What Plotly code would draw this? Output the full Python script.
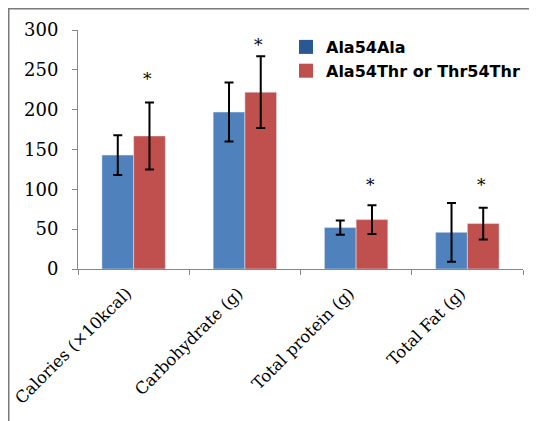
import plotly.graph_objects as go

categories = ["Calories (×10kcal)", "Carbohydrate (g)", "Total protein (g)", "Total Fat (g)"]
series_names = ["Ala54Ala", "Ala54Thr or Thr54Thr"]
ala_values = [143, 197, 52, 46]
ala_errors = [25, 37, 9, 37]
thr_values = [167, 222, 62, 57]
thr_errors = [42, 45, 18, 20]
sig_marks = ["*", "*", "*", "*"]
sig_y = [242, 285, 109, 109]
y_ticks = [0, 50, 100, 150, 200, 250, 300]

BLUE = "#4F81BD"
RED = "#C0504D"
BLUE_LEG = "#2A5892"
RED_LEG = "#C0504D"
AX = "#878787"
BAR_W = 0.285

# page is offset by 8px body margin; sizes in figure coordinates
W, H = 529, 413
ML, MR, MT, MB = 70, 14, 22, 152
PW, PH = W - ML - MR, H - MT - MB

def px_x(px):
    return (px - ML) / PW

def px_y(py):
    return (H - MB - py) / PH

fig = go.Figure()
err_style = dict(type="data", color="black", thickness=2, width=4.5)
fig.add_trace(go.Bar(x=categories, y=ala_values, name=series_names[0], marker_color=BLUE,
                     width=BAR_W, offset=-BAR_W, showlegend=False,
                     error_y=dict(array=ala_errors, **err_style)))
fig.add_trace(go.Bar(x=categories, y=thr_values, name=series_names[1], marker_color=RED,
                     width=BAR_W, offset=0, showlegend=False,
                     error_y=dict(array=thr_errors, **err_style)))
for nm, col in zip(series_names, [BLUE_LEG, RED_LEG]):
    fig.add_trace(go.Scatter(x=[None], y=[None], mode="markers", name=nm,
                             marker=dict(symbol="square", size=14, color=col)))

for cat, s, yv in zip(categories, sig_marks, sig_y):
    fig.add_annotation(x=cat, y=yv, text=s, showarrow=False, xshift=14,
                       yshift=-3, font=dict(family="DejaVu Serif", size=17, color="black"))

# outer chart border (left and top visible)
fig.add_shape(type="line", xref="paper", yref="paper", x0=px_x(0), x1=px_x(540), y0=px_y(0.5), y1=px_y(0.5),
              line=dict(color="#7a7a7a", width=2))
fig.add_shape(type="line", xref="paper", yref="paper", x0=px_x(0.5), x1=px_x(0.5), y0=px_y(0), y1=px_y(420),
              line=dict(color="#7a7a7a", width=2))

fig.update_layout(
    width=W, height=H,
    margin=dict(l=ML, r=MR, t=MT, b=MB, pad=0),
    paper_bgcolor="white", plot_bgcolor="white",
    barmode="overlay",
    legend=dict(x=px_x(278), y=px_y(22), xanchor="left", yanchor="top",
                font=dict(family="DejaVu Sans", size=16, color="black", weight="bold"),
                bgcolor="rgba(0,0,0,0)", tracegroupgap=0, itemwidth=30),
    xaxis=dict(type="category", showline=True, linecolor=AX, linewidth=1, automargin=False,
               ticks="outside", tickson="boundaries", ticklen=5, tickcolor=AX,
               tickangle=-45, showgrid=False, zeroline=False, ticklabelshift=-7,
               ticklabelstandoff=7,
               tickfont=dict(family="DejaVu Serif", size=16.5, color="black")),
    yaxis=dict(range=[0, 300], tickvals=y_ticks, showline=True, linecolor=AX, linewidth=1,
               automargin=False,
               ticks="outside", ticklen=5, tickcolor=AX, showgrid=False, zeroline=False,
               ticklabelstandoff=10,
               tickfont=dict(family="DejaVu Serif", size=18, color="black")),
)

fig.write_html("out.html")
